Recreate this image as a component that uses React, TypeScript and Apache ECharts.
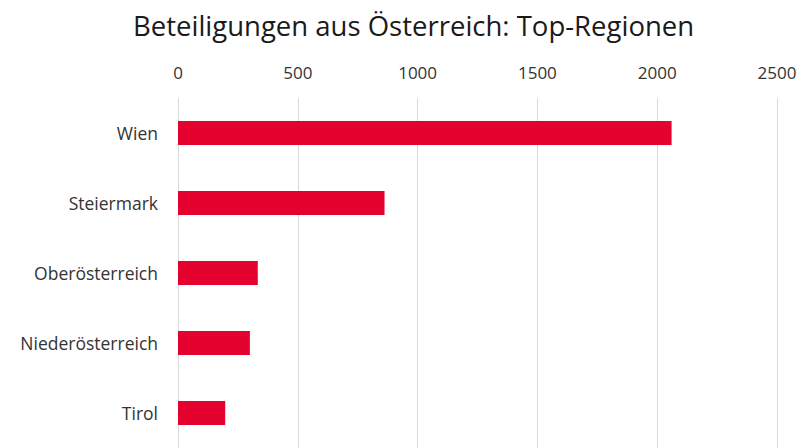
import React, { useEffect, useRef } from "react";
import * as echarts from "echarts";

const categories = ["Wien", "Steiermark", "Oberösterreich", "Niederösterreich", "Tirol"];
const values = [2060, 862, 333, 300, 197];
const xTicks = { min: 0, max: 2500, interval: 500 };
const titleText = "Beteiligungen aus Österreich: Top-Regionen";

export default function App() {
  const ref = useRef<HTMLDivElement>(null);
  useEffect(() => {
    if (!ref.current) return;
    const chart = echarts.init(ref.current, null, { renderer: "svg" });
    chart.setOption({
      animation: false,
      backgroundColor: "#ffffff",
      title: {
        text: titleText,
        left: 128,
        top: 6,
        textStyle: {
          fontFamily: "Open Sans",
          fontSize: 27.5,
          fontWeight: "normal",
          color: "#1a1a1a",
        },
      },
      grid: { left: 178, right: 28, top: 98, bottom: 0, containLabel: false },
      xAxis: {
        type: "value",
        position: "top",
        min: xTicks.min,
        max: xTicks.max,
        interval: xTicks.interval,
        axisLine: { show: false },
        axisTick: { show: false },
        axisLabel: {
          margin: 17,
          fontFamily: "Open Sans",
          fontSize: 17,
          color: "#333333",
          formatter: (v: number) => String(v),
        },
        splitLine: { show: true, lineStyle: { color: "#d9d9d9", width: 1 } },
      },
      yAxis: {
        type: "category",
        data: categories,
        inverse: true,
        axisLine: { show: false },
        axisTick: { show: false },
        axisLabel: {
          margin: 20,
          fontFamily: "Open Sans",
          fontSize: 17.5,
          color: "#333333",
        },
      },
      series: [
        {
          type: "bar",
          data: values,
          barWidth: "34%",
          itemStyle: { color: "#E4032E" },
        },
      ],
    });
    return () => chart.dispose();
  }, []);
  return (
    <div
      ref={ref}
      style={{ position: "fixed", left: 0, top: 0, width: 805, height: 448 }}
    />
  );
}
